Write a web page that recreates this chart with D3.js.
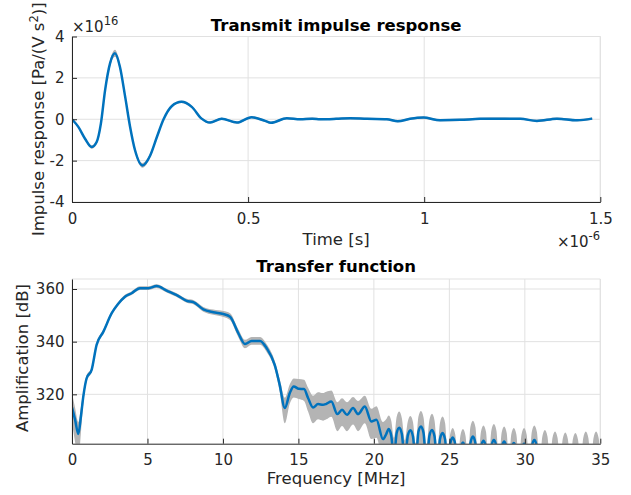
<!DOCTYPE html>
<html>
<head>
<meta charset="utf-8">
<script src="https://cdn.jsdelivr.net/npm/d3@7"></script>
<style>
  html, body { margin: 0; padding: 0; background: #ffffff; }
  svg { display: block; font-family: "DejaVu Sans", sans-serif; }
</style>
</head>
<body>
<svg id="chart" width="631" height="495"></svg>
<script>
// ---------- Top panel: transmit impulse response (values in 1e16 Pa/(V s^2), time in µs) ----------
const timeUs = [0, 0.018, 0.037, 0.056, 0.07, 0.082, 0.094, 0.108, 0.122, 0.136, 0.151, 0.165, 0.179, 0.2, 0.222, 0.241, 0.26, 0.283, 0.311, 0.34, 0.368, 0.392, 0.425, 0.468, 0.51, 0.548, 0.565, 0.61, 0.648, 0.682, 0.705, 0.75, 0.79, 0.837, 0.894, 0.925, 0.96, 0.998, 1.045, 1.102, 1.159, 1.216, 1.273, 1.32, 1.377, 1.434, 1.477];
const impulse = [0, -0.37, -0.94, -1.34, -1.1, -0.21, 1.41, 2.7, 3.19, 2.54, 1.08, -0.37, -1.5, -2.23, -1.75, -0.86, 0, 0.63, 0.84, 0.6, 0.03, -0.16, 0.02, -0.16, 0.1, -0.08, -0.17, 0.05, 0, 0.03, 0, 0.02, 0.05, 0.02, 0, -0.1, 0.02, 0.08, -0.05, -0.03, 0.02, 0.03, 0.02, -0.08, 0.03, -0.05, 0.03];
const impulseSpread = [0.04, 0.05, 0.06, 0.08, 0.08, 0.08, 0.12, 0.15, 0.17, 0.15, 0.12, 0.1, 0.1, 0.12, 0.1, 0.08, 0.06, 0.06, 0.06, 0.06, 0.05, 0.05, 0.05, 0.05, 0.05, 0.05, 0.05, 0.05, 0.05, 0.05, 0.05, 0.05, 0.05, 0.05, 0.05, 0.05, 0.05, 0.05, 0.05, 0.05, 0.05, 0.05, 0.05, 0.05, 0.05, 0.05, 0.05];
const timeTicks = [0, 0.5, 1, 1.5];
const impulseTicks = [-4, -2, 0, 2, 4];

// ---------- Bottom panel: transfer function, 0 - 20.2 MHz ----------
const freqLowMHz = [0.0, 0.2, 0.42, 0.6, 0.75, 0.97, 1.3, 1.63, 2.08, 2.63, 3.05, 3.51, 3.95, 4.5, 5.06, 5.61, 6.27, 6.94, 7.6, 8.04, 8.7, 9.36, 10.03, 10.47, 11.02, 11.46, 11.9, 12.46, 12.9, 13.43, 13.76, 14.1, 14.43, 14.69, 15.02, 15.37, 15.64, 15.97, 16.3, 16.63, 16.85, 17.18, 17.58, 17.89, 18.22, 18.62, 18.95, 19.4, 19.83, 20.17];
const ampLowMean = [315.0, 310.5, 304.9, 312.0, 319.2, 326.1, 329.3, 338.8, 343.8, 350.8, 354.3, 357.1, 358.4, 360.3, 360.3, 361.1, 359.4, 357.7, 355.5, 355.0, 352.3, 351.2, 350.5, 349.5, 343.2, 339.1, 340.3, 340.3, 337.5, 331.2, 323.6, 314.8, 320.5, 323.0, 322.1, 322.0, 318.6, 315.0, 316.3, 316.0, 316.4, 317.3, 312.5, 314.1, 312.2, 314.8, 312.5, 315.4, 309.7, 310.3];
const ampLowMin = [309.0, 302.0, 295.0, 306.0, 316.5, 325.0, 328.5, 338.0, 343.0, 350.1, 353.6, 356.4, 357.7, 359.6, 359.6, 360.4, 358.7, 357.0, 354.8, 354.2, 351.4, 350.2, 349.4, 348.2, 341.7, 337.5, 338.8, 338.8, 336.0, 329.5, 321.0, 309.0, 316.5, 318.8, 318.2, 317.5, 313.5, 309.0, 310.5, 310.0, 310.5, 311.5, 306.0, 308.0, 306.0, 308.5, 306.0, 309.0, 303.0, 303.5];
const ampLowMax = [320.5, 315.0, 309.5, 315.5, 321.0, 327.2, 330.2, 339.6, 344.6, 351.5, 355.0, 357.8, 359.1, 361.0, 361.0, 361.8, 360.1, 358.4, 356.3, 355.8, 353.2, 352.2, 351.6, 350.8, 344.7, 340.7, 341.8, 341.8, 339.0, 332.8, 325.8, 318.7, 323.8, 326.0, 325.8, 325.5, 322.5, 319.5, 320.8, 320.5, 321.0, 321.5, 317.0, 318.5, 317.0, 319.0, 317.5, 319.5, 314.5, 315.5];

// ---------- Bottom panel: 20.6 - 35 MHz (side-lobe region: shoulder, peak, shoulder, null per lobe) ----------
const freqHighMHz = [20.6,
  20.81, 20.98, 21.15, 21.33,  21.51, 21.68, 21.85, 22.05,  22.25, 22.42, 22.59, 22.77,  22.95, 23.12, 23.29, 23.48,
  23.68, 23.85, 24.02, 24.2,   24.38, 24.55, 24.72, 24.88,  25.05, 25.22, 25.39, 25.56,  25.73, 25.9, 26.07, 26.23,
  26.39, 26.56, 26.73, 26.9,   27.09, 27.26, 27.43, 27.6,   27.78, 27.95, 28.12, 28.3,   28.46, 28.63, 28.8, 28.95,
  29.1, 29.27, 29.44, 29.6,    29.78, 29.95, 30.12, 30.3,   30.46, 30.63, 30.8, 30.98,   31.16, 31.33, 31.5, 31.67,
  31.83, 32.0, 32.17, 32.34,   32.51, 32.68, 32.85, 33.02,  33.18, 33.35, 33.52, 33.7,   33.87, 34.04, 34.21, 34.38,
  34.55, 34.72, 34.89, 35.0];
const ampHighMean = [303.0,
  304.8, 306.8, 304.3, 296.0,  305.3, 307.3, 305.0, 295.0,  304.4, 306.4, 304.0, 294.0,  305.8, 307.8, 305.3, 293.0,
  304.3, 306.5, 304.0, 292.0,  303.0, 305.3, 302.8, 291.0,  301.0, 303.6, 301.0, 290.0,  299.0, 301.7, 299.0, 289.0,
  301.3, 304.0, 301.3, 289.0,  299.7, 302.4, 299.7, 289.0,  300.0, 302.7, 300.0, 289.0,  299.4, 302.1, 299.4, 289.0,
  298.8, 301.5, 298.8, 289.0,  298.5, 301.2, 298.5, 289.0,  300.0, 302.7, 300.0, 288.0,  296.8, 299.5, 296.8, 287.0,
  296.3, 299.0, 296.3, 287.0,  295.8, 298.5, 295.8, 287.0,  295.8, 298.5, 295.8, 287.0,  296.3, 299.0, 296.3, 287.0,
  296.3, 299.0, 296.3, 290.0];
const ampHighMin = [295.0,
  295.8, 297.8, 295.3, 284.0,  296.3, 298.3, 296.0, 284.0,  295.4, 297.4, 295.0, 283.0,  296.8, 298.8, 296.3, 283.0,
  295.3, 297.5, 295.0, 282.0,  294.0, 296.3, 293.8, 281.0,  292.0, 294.6, 292.0, 280.0,  290.0, 292.7, 290.0, 280.0,
  292.3, 295.0, 292.3, 280.0,  290.7, 293.4, 290.7, 280.0,  291.0, 293.7, 291.0, 280.0,  290.4, 293.1, 290.4, 280.0,
  289.8, 292.5, 289.8, 280.0,  289.5, 292.2, 289.5, 280.0,  291.0, 293.7, 291.0, 279.0,  287.8, 290.5, 287.8, 278.0,
  287.3, 290.0, 287.3, 278.0,  286.8, 289.5, 286.8, 278.0,  286.8, 289.5, 286.8, 278.0,  287.3, 290.0, 287.3, 278.0,
  287.3, 290.0, 287.3, 280.0];
const ampHighMax = [309.5,
  310.5, 312.0, 310.0, 303.5,  311.5, 313.5, 311.0, 302.5,  309.8, 311.8, 309.5, 301.5,  311.5, 313.7, 311.2, 300.5,
  310.3, 312.6, 310.0, 299.0,  309.2, 311.6, 309.0, 297.0,  304.7, 307.2, 304.7, 295.0,  304.3, 306.8, 304.3, 294.0,
  307.5, 310.0, 307.5, 294.0,  305.7, 308.2, 305.7, 294.0,  306.2, 308.7, 306.2, 294.0,  305.3, 307.8, 305.3, 294.0,
  304.7, 307.2, 304.7, 294.0,  304.7, 307.2, 304.7, 294.0,  305.7, 308.2, 305.7, 294.0,  304.0, 306.5, 304.0, 294.0,
  303.4, 305.9, 303.4, 294.0,  303.0, 305.5, 303.0, 294.0,  302.8, 305.3, 302.8, 294.0,  303.4, 305.9, 303.4, 294.0,
  303.4, 305.9, 303.4, 296.0];
const freqTicks = [0, 5, 10, 15, 20, 25, 30, 35];
const ampTicks = [320, 340, 360];

// ---------- styling ----------
const BLUE = "#0072bd", BAND = "#b4b4b4", AXIS = "#262626", GRID = "#e1e1e1";
const TICK_FS = 15, LABEL_FS = 16.5, TITLE_FS = 16.5;

const svg = d3.select("#chart");
const plotLeft = 72, plotRight = 600.3;

function panel(opts) {
  const g = svg.append("g");
  const x = d3.scaleLinear().domain(opts.xDomain).range([plotLeft, plotRight]);
  const y = d3.scaleLinear().domain(opts.yDomain).range([opts.bottom, opts.top]);

  const clipId = opts.id + "-clip";
  svg.append("clipPath").attr("id", clipId).append("rect")
    .attr("x", plotLeft).attr("y", opts.top).attr("width", plotRight - plotLeft).attr("height", opts.bottom - opts.top);

  // grid
  const grid = g.append("g");
  opts.xTicks.forEach(t => grid.append("line").attr("x1", x(t)).attr("x2", x(t)).attr("y1", opts.top).attr("y2", opts.bottom)
    .attr("stroke", GRID).attr("stroke-width", 1));
  opts.yTicks.forEach(t => grid.append("line").attr("x1", plotLeft).attr("x2", plotRight).attr("y1", y(t)).attr("y2", y(t))
    .attr("stroke", GRID).attr("stroke-width", 1));
  grid.append("line").attr("x1", plotLeft).attr("x2", plotRight).attr("y1", opts.top).attr("y2", opts.top).attr("stroke", GRID);
  grid.append("line").attr("x1", plotRight).attr("x2", plotRight).attr("y1", opts.top).attr("y2", opts.bottom).attr("stroke", GRID);

  const data = opts.xs.map((v, i) => ({x: v, y: opts.ys[i], lo: opts.lo[i], hi: opts.hi[i]}));
  const plot = g.append("g").attr("clip-path", `url(#${clipId})`);
  plot.append("path").datum(data)
    .attr("d", d3.area().x(d => x(d.x)).y0(d => y(d.lo)).y1(d => y(d.hi)).curve(d3.curveMonotoneX))
    .attr("fill", BAND).attr("stroke", "none");
  plot.append("path").datum(data)
    .attr("d", d3.line().x(d => x(d.x)).y(d => y(d.y)).curve(d3.curveMonotoneX))
    .attr("fill", "none").attr("stroke", BLUE).attr("stroke-width", 2.5).attr("stroke-linejoin", "round");

  // axes
  const xa = g.append("g").attr("transform", `translate(0,${opts.bottom})`)
    .call(d3.axisBottom(x).tickValues(opts.xTicks).tickFormat(opts.xFmt).tickSize(-5).tickSizeOuter(0).tickPadding(11));
  const ya = g.append("g").attr("transform", `translate(${plotLeft},0)`)
    .call(d3.axisLeft(y).tickValues(opts.yTicks).tickFormat(opts.yFmt).tickSize(-5).tickSizeOuter(0).tickPadding(7.5));
  [xa, ya].forEach(a => {
    a.select(".domain").attr("stroke", AXIS).attr("stroke-width", 1);
    a.selectAll(".tick line").attr("stroke", AXIS);
    a.selectAll(".tick text").attr("fill", AXIS).style("font-size", TICK_FS + "px").style("font-family", "DejaVu Sans");
  });

  // title
  svg.append("text").attr("x", (plotLeft + plotRight) / 2).attr("y", opts.titleY).attr("text-anchor", "middle")
    .attr("fill", "#000").style("font-size", TITLE_FS + "px").style("font-weight", "bold").text(opts.title);
  // x label
  svg.append("text").attr("x", (plotLeft + plotRight) / 2).attr("y", opts.xLabelY).attr("text-anchor", "middle")
    .attr("fill", AXIS).style("font-size", LABEL_FS + "px").text(opts.xLabel);
  return {x, y};
}

panel({
  id: "toppanel", xDomain: [0, 1.5], yDomain: [-4, 4], top: 36.5, bottom: 202,
  xs: timeUs, ys: impulse,
  lo: impulse.map((v, i) => v - impulseSpread[i]), hi: impulse.map((v, i) => v + impulseSpread[i]),
  xTicks: timeTicks, yTicks: impulseTicks,
  xFmt: d => String(d), yFmt: d => (d < 0 ? "-" + Math.abs(d) : String(d)),
  title: "Transmit impulse response", titleY: 31,
  xLabel: "Time [s]", xLabelY: 244.5
});

panel({
  id: "botpanel", xDomain: [0, 35], yDomain: [301.25, 363.8], top: 279, bottom: 443.7,
  xs: freqLowMHz.concat(freqHighMHz), ys: ampLowMean.concat(ampHighMean),
  lo: ampLowMin.concat(ampHighMin), hi: ampLowMax.concat(ampHighMax),
  xTicks: freqTicks, yTicks: ampTicks,
  xFmt: d => String(d), yFmt: d => String(d),
  title: "Transfer function", titleY: 272,
  xLabel: "Frequency [MHz]", xLabelY: 484
});

// y labels
const yl1 = svg.append("text").attr("transform", "translate(43.5,119.25) rotate(-90)").attr("text-anchor", "middle")
  .attr("fill", AXIS).style("font-size", LABEL_FS + "px");
yl1.append("tspan").text("Impulse response [Pa/(V s");
yl1.append("tspan").attr("dy", -6).style("font-size", "11.5px").text("2");
yl1.append("tspan").attr("dy", 6).text(")]");

svg.append("text").attr("transform", "translate(27.5,358) rotate(-90)").attr("text-anchor", "middle")
  .attr("fill", AXIS).style("font-size", LABEL_FS + "px").text("Amplification [dB]");

// exponent labels
const e1 = svg.append("text").attr("x", 72).attr("y", 32.3).attr("fill", AXIS).style("font-size", TICK_FS + "px");
e1.append("tspan").text("\u00d710");
e1.append("tspan").attr("dy", -7).style("font-size", "11.5px").text("16");

const e2 = svg.append("text").attr("x", 600).attr("y", 247).attr("text-anchor", "end").attr("fill", AXIS).style("font-size", TICK_FS + "px");
e2.append("tspan").text("\u00d710");
e2.append("tspan").attr("dy", -7).style("font-size", "11.5px").text("-6");
</script>
</body>
</html>
